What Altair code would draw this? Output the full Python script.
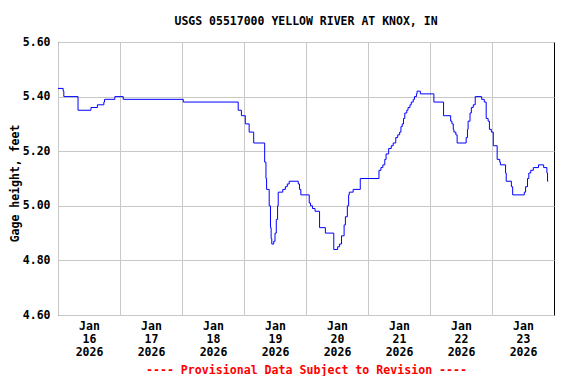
import altair as alt
import pandas as pd

times = [
    "2026-01-16T00:00", "2026-01-16T02:00", "2026-01-16T02:15", "2026-01-16T07:45",
    "2026-01-16T12:45", "2026-01-16T15:15", "2026-01-16T17:45", "2026-01-16T18:00",
    "2026-01-16T22:00", "2026-01-17T01:15", "2026-01-18T00:30", "2026-01-18T21:45",
    "2026-01-18T23:00", "2026-01-19T00:30", "2026-01-19T02:00", "2026-01-19T03:45",
    "2026-01-19T08:00", "2026-01-19T08:30", "2026-01-19T08:45", "2026-01-19T09:45",
    "2026-01-19T10:15", "2026-01-19T10:30", "2026-01-19T10:45", "2026-01-19T11:30",
    "2026-01-19T12:00", "2026-01-19T12:30", "2026-01-19T13:00", "2026-01-19T13:15",
    "2026-01-19T15:00", "2026-01-19T16:00", "2026-01-19T16:45", "2026-01-19T17:30",
    "2026-01-19T21:00", "2026-01-19T21:30", "2026-01-19T22:00", "2026-01-20T01:15",
    "2026-01-20T01:45", "2026-01-20T02:30", "2026-01-20T03:30", "2026-01-20T05:15",
    "2026-01-20T07:30", "2026-01-20T10:45", "2026-01-20T12:15", "2026-01-20T13:00",
    "2026-01-20T13:45", "2026-01-20T14:45", "2026-01-20T15:15", "2026-01-20T16:00",
    "2026-01-20T16:30", "2026-01-20T16:45", "2026-01-20T18:15", "2026-01-20T21:00",
    "2026-01-21T04:15", "2026-01-21T05:00", "2026-01-21T05:45", "2026-01-21T06:30",
    "2026-01-21T07:00", "2026-01-21T08:00", "2026-01-21T09:00", "2026-01-21T09:45",
    "2026-01-21T10:45", "2026-01-21T11:30", "2026-01-21T12:15", "2026-01-21T12:45",
    "2026-01-21T13:15", "2026-01-21T13:45", "2026-01-21T14:15", "2026-01-21T15:00",
    "2026-01-21T15:30", "2026-01-21T16:15", "2026-01-21T16:45", "2026-01-21T17:30",
    "2026-01-21T18:00", "2026-01-21T18:45", "2026-01-21T19:00", "2026-01-21T20:15",
    "2026-01-22T01:30", "2026-01-22T05:15", "2026-01-22T08:00", "2026-01-22T08:30",
    "2026-01-22T09:00", "2026-01-22T09:15", "2026-01-22T10:00", "2026-01-22T10:30",
    "2026-01-22T14:00", "2026-01-22T14:30", "2026-01-22T14:45", "2026-01-22T15:30",
    "2026-01-22T16:00", "2026-01-22T16:45", "2026-01-22T17:30", "2026-01-22T20:00",
    "2026-01-22T21:00", "2026-01-22T21:45", "2026-01-22T22:30", "2026-01-22T23:00",
    "2026-01-22T23:45", "2026-01-23T00:30", "2026-01-23T02:00", "2026-01-23T03:00",
    "2026-01-23T03:15", "2026-01-23T05:15", "2026-01-23T05:30", "2026-01-23T07:30",
    "2026-01-23T08:00", "2026-01-23T12:30", "2026-01-23T13:00", "2026-01-23T13:45",
    "2026-01-23T14:15", "2026-01-23T15:00", "2026-01-23T16:00", "2026-01-23T18:00",
    "2026-01-23T20:00", "2026-01-23T21:15", "2026-01-23T21:30", "2026-01-23T21:45",
]
heights = [
    5.43, 5.42, 5.40, 5.35,
    5.36, 5.37, 5.38, 5.39,
    5.40, 5.39, 5.38, 5.35,
    5.33, 5.30, 5.27, 5.23,
    5.16, 5.10, 5.06, 5.00,
    4.92, 4.88, 4.86, 4.87,
    4.90, 4.95, 5.00, 5.05,
    5.06, 5.07, 5.08, 5.09,
    5.08, 5.06, 5.04, 5.01,
    5.00, 4.99, 4.98, 4.92,
    4.90, 4.84, 4.85, 4.86,
    4.89, 4.93, 4.96, 5.00,
    5.04, 5.05, 5.06, 5.10,
    5.13, 5.14, 5.15, 5.17,
    5.19, 5.21, 5.22, 5.23,
    5.25, 5.26, 5.27, 5.29,
    5.30, 5.32, 5.34, 5.35,
    5.36, 5.37, 5.38, 5.39,
    5.40, 5.41, 5.42, 5.41,
    5.38, 5.33, 5.31, 5.30,
    5.28, 5.27, 5.26, 5.23,
    5.25, 5.28, 5.31, 5.34,
    5.36, 5.37, 5.40, 5.39,
    5.38, 5.32, 5.31, 5.28,
    5.27, 5.22, 5.17, 5.16,
    5.15, 5.12, 5.09, 5.07,
    5.04, 5.05, 5.07, 5.10,
    5.12, 5.13, 5.14, 5.15,
    5.14, 5.12, 5.09, 5.09,
]

y_ticks = [4.60, 4.80, 5.00, 5.20, 5.40, 5.60]
day_numbers = [16, 17, 18, 19, 20, 21, 22, 23]

title_text = "USGS 05517000 YELLOW RIVER AT KNOX, IN"
y_title = "Gage height, feet"
footer = "---- Provisional Data Subject to Revision ----"

df = pd.DataFrame({"time": times, "height": heights})

FONT = "DejaVu Sans Mono"

day_ticks = [alt.DateTime(year=2026, month=1, date=d) for d in day_numbers]

x_axis = alt.Axis(
    values=day_ticks,
    labelExpr="[timeFormat(datum.value, '%b'), timeFormat(datum.value, '%d'), timeFormat(datum.value, '%Y')]",
    labelOffset=31,
    labelFlush=False,
    labelOverlap=False,
    labelFont=FONT,
    labelFontSize=11.5,
    labelFontWeight="bold",
    labelColor="black",
    labelLineHeight=13,
    labelPadding=5,
    labelAlign="center",
    grid=True,
    gridColor="#c8c8c8",
    gridWidth=1,
    ticks=False,
    domain=False,
    title=footer,
    titleColor="red",
    titleFont=FONT,
    titleFontSize=11.6,
    titleFontWeight="bold",
    titleBaseline="alphabetic",
    titleY=58,
)

y_axis = alt.Axis(
    values=y_ticks,
    format=".2f",
    labelFont=FONT,
    labelFontSize=11.5,
    labelFontWeight="bold",
    labelColor="black",
    labelPadding=8,
    grid=True,
    gridColor="#c8c8c8",
    gridWidth=1,
    ticks=False,
    domain=False,
    title=y_title,
    titleFont=FONT,
    titleFontSize=11.5,
    titleFontWeight="bold",
    titleColor="black",
    titleX=-43,
    titleY=141,
    titleBaseline="middle",
    titleAngle=270,
)

chart = (
    alt.Chart(df)
    .mark_line(color="#0000ff", strokeWidth=1, interpolate="step-after")
    .encode(
        x=alt.X(
            "time:T",
            scale=alt.Scale(
                domain=[
                    alt.DateTime(year=2026, month=1, date=16),
                    alt.DateTime(year=2026, month=1, date=24),
                ]
            ),
            axis=x_axis,
        ),
        y=alt.Y("height:Q", scale=alt.Scale(domain=[4.6, 5.6], zero=False, nice=False), axis=y_axis),
    )
    .properties(
        width=496,
        height=273,
        title=alt.TitleParams(
            title_text,
            font=FONT,
            fontSize=11.5,
            fontWeight="bold",
            color="black",
            anchor="middle",
            offset=9,
        ),
        autosize=alt.AutoSizeParams(type="none"),
        padding={"left": 50, "top": 34, "right": 14, "bottom": 61},
        background="white",
    )
    .configure_view(stroke="black", strokeWidth=1)
)

chart.save("out.html", embed_options={"renderer": "svg", "actions": False})
